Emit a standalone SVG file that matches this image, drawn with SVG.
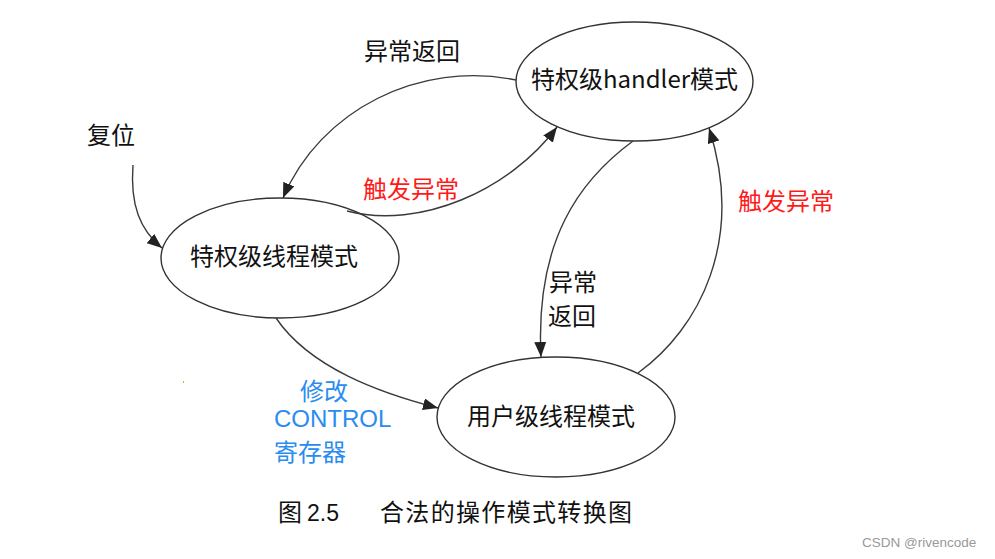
<svg xmlns="http://www.w3.org/2000/svg" width="995" height="559" viewBox="0 0 995 559">
<style>
.node ellipse{fill:#fff;stroke:#333;stroke-width:1.4}
.cjk{font-family:"Noto Sans CJK SC","Noto Sans",sans-serif;font-size:24px;fill:#111}
.red{fill:#ff1a1a}
.blue{fill:#2a8cf0}
.edge{fill:none;stroke:#3a3a3a;stroke-width:1.4;marker-end:url(#arr)}
</style>
<defs>
<marker id="arr" markerUnits="userSpaceOnUse" markerWidth="16" markerHeight="12" refX="15" refY="6" orient="auto">
<path d="M0,0 L15,6 L0,12 Z" fill="#222"/>
</marker>
</defs>
<rect width="995" height="559" fill="#fff"/>
<g id="n-priv-thread" class="node">
<ellipse cx="280" cy="258" rx="119" ry="60"/>
<text class="cjk" x="190" y="265">特权级线程模式</text>
</g>
<g id="n-handler" class="node">
<ellipse cx="634.5" cy="81.5" rx="118.5" ry="59.5"/>
<text class="cjk" x="531" y="88">特权级handler模式</text>
</g>
<g id="n-user-thread" class="node">
<ellipse cx="556" cy="417" rx="119" ry="60"/>
<text class="cjk" x="467" y="425">用户级线程模式</text>
</g>
<g id="connectors">
<path class="edge" d="M133,165 C130,205 140,230 162,248"/>
<path class="edge" d="M516,80 C420,60 320,110 283,198"/>
<path class="edge" d="M347,211 C420,230 510,190 557,127"/>
<path class="edge" d="M633,141 C580,180 535,240 541,357"/>
<path class="edge" d="M638,373 C700,328 745,240 709,128"/>
<path class="edge" d="M276,318 C310,368 380,393 438,408"/>
</g>
<g id="labels">
<text class="cjk" x="87" y="144">复位</text>
<text class="cjk" x="364" y="60">异常返回</text>
<text class="cjk red" x="363" y="198">触发异常</text>
<text class="cjk red" x="738" y="210">触发异常</text>
<text class="cjk" x="549" y="291">异常</text>
<text class="cjk" x="548" y="325">返回</text>
<text class="cjk blue" x="300" y="400">修改</text>
<text class="blue" x="274" y="427" font-family="'Liberation Sans',Arial,sans-serif" font-size="24">CONTROL</text>
<text class="cjk blue" x="274" y="461">寄存器</text>
</g>
<g id="caption">
<text class="cjk" x="278" y="521" font-size="25">图</text>
<text x="307" y="521" font-family="'Liberation Sans',Arial,sans-serif" font-size="23" fill="#111">2.5</text>
<text class="cjk" x="380" y="521" font-size="25" textLength="252" lengthAdjust="spacing">合法的操作模式转换图</text>
</g>
<rect x="183" y="381" width="1" height="2" fill="#f0a040"/>
<text x="862" y="547" font-family="'Liberation Sans',Arial,sans-serif" font-size="13.5" fill="#999">CSDN @rivencode</text>
</svg>
